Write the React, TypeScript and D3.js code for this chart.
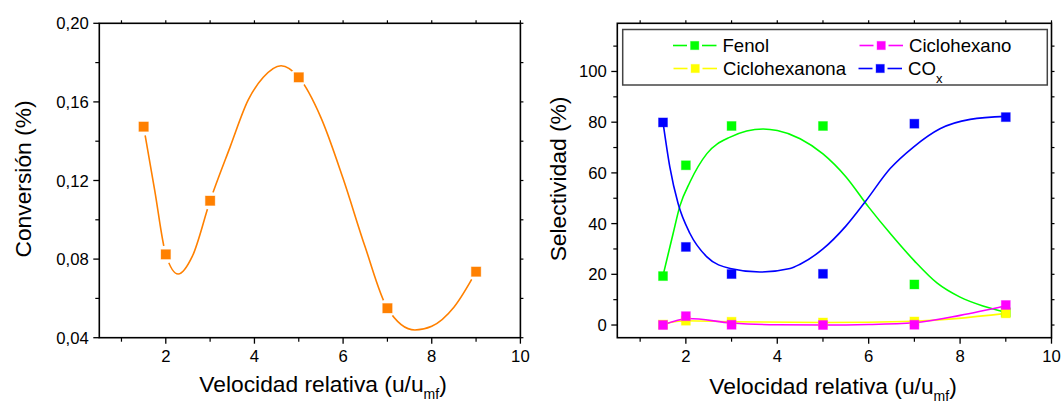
import React from "react";
import * as d3 from "d3";

// ---------- data ----------
const velocity = [1.5, 2, 3, 5, 7, 9];
const conversion = [0.1474, 0.0824, 0.1097, 0.1725, 0.055, 0.0736];

const fenol = [19.3, 63.0, 78.5, 78.5, 16.0, 5.0];
const ciclohexano = [0.0, 3.5, 0.1, 0.0, 0.1, 7.9];
const ciclohexanona = [0.2, 1.7, 1.3, 1.0, 1.4, 4.6];
const cox = [79.9, 30.8, 20.1, 20.2, 79.4, 82.0];

// fitted / spline curves
const conversionFitX = [1.5, 1.75, 2, 2.28, 2.6, 3, 3.45, 3.86, 4.2, 4.6, 5, 5.5, 6.0, 6.5, 7, 7.62, 8.0, 8.5, 9];
const conversionFitY = [0.1474, 0.115, 0.0824, 0.0724, 0.0815, 0.1097, 0.137, 0.161, 0.1725, 0.1784, 0.1725, 0.152, 0.121, 0.086, 0.055, 0.0439, 0.0458, 0.0555, 0.0736];
const fenolFitX = [1.5, 1.72, 1.87, 2.09, 2.46, 2.97, 3.69, 4.0, 4.5, 5.0, 5.5, 6.0, 6.5, 7.0, 7.5, 8.0, 8.5, 9];
const fenolFitY = [19.5, 36, 47, 56.4, 67.6, 74.1, 77.3, 76.7, 73.5, 67.5, 58.5, 46.5, 35.5, 25.3, 16.5, 11, 7.5, 5.0];
const coxFitX = [1.5, 1.65, 1.83, 2.09, 2.46, 2.97, 3.62, 4.28, 4.5, 5.0, 5.5, 5.92, 6.47, 6.98, 7.56, 8.22, 9];
const coxFitY = [80, 62.3, 47.9, 36.1, 26.9, 22.3, 20.9, 22.3, 24.0, 30.0, 39.0, 48.5, 61.7, 70.2, 77.4, 81.1, 82.3];
const ciclohexanoFitX = [1.5, 2.05, 3, 4, 5, 6, 7, 8, 9];
const ciclohexanoFitY = [0, 2.6, 0.8, 0.1, 0, 0.2, 0.9, 3.8, 7.6];
const ciclohexanonaFitX = [1.5, 2, 3, 5, 7, 9];
const ciclohexanonaFitY = [0.4, 1.7, 1.3, 1.0, 1.5, 4.6];

// ticks
const xMajor = [2, 4, 6, 8, 10];
const xMinor = [1, 3, 5, 7, 9];
const convMajor = [0.04, 0.08, 0.12, 0.16, 0.2];
const convMinor = [0.06, 0.1, 0.14, 0.18];
const selMajor = [0, 20, 40, 60, 80, 100];
const selMinor = [10, 30, 50, 70, 90, 110];

const FONT = "'Liberation Sans', Arial, Helvetica, sans-serif";
const ORANGE = "#ff8000";
const GREEN = "#00ff00";
const BLUE = "#0000ff";
const MAGENTA = "#ff00ff";
const YELLOW = "#ffff00";

type Scale = d3.ScaleLinear<number, number>;

function Frame({ x, y, xMaj, xMin, yMaj, yMin, fmt }: { x: Scale; y: Scale; xMaj: number[]; xMin: number[]; yMaj: number[]; yMin: number[]; fmt: (v: number) => string }) {
  const [x0, x1] = x.range();
  const [y0, y1] = y.range(); // y0 bottom, y1 top
  const els: React.ReactNode[] = [];
  xMaj.forEach((v, i) => {
    const px = x(v);
    els.push(<line key={"xM" + i} x1={px} x2={px} y1={y0} y2={y0 + 6} stroke="#000" strokeWidth={1.3} />);
    els.push(<line key={"xMt" + i} x1={px} x2={px} y1={y1} y2={y1 - 3} stroke="#000" strokeWidth={1.2} />);
    els.push(
      <text key={"xL" + i} x={px} y={362} textAnchor="middle" fontSize={16.7} fontFamily={FONT} fill="#000">
        {v}
      </text>
    );
  });
  xMin.forEach((v, i) => {
    const px = x(v);
    els.push(<line key={"xm" + i} x1={px} x2={px} y1={y0} y2={y0 + 4} stroke="#000" strokeWidth={1.2} />);
    els.push(<line key={"xmt" + i} x1={px} x2={px} y1={y1} y2={y1 - 3} stroke="#000" strokeWidth={1.2} />);
  });
  yMaj.forEach((v, i) => {
    const py = y(v);
    els.push(<line key={"yM" + i} x1={x0} x2={x0 - 6} y1={py} y2={py} stroke="#000" strokeWidth={1.3} />);
    els.push(<line key={"yMr" + i} x1={x1} x2={x1 + 3} y1={py} y2={py} stroke="#000" strokeWidth={1.2} />);
    els.push(
      <text key={"yL" + i} x={x0 - 10.5} y={py + 6} textAnchor="end" fontSize={16.7} fontFamily={FONT} fill="#000">
        {fmt(v)}
      </text>
    );
  });
  yMin.forEach((v, i) => {
    const py = y(v);
    els.push(<line key={"ym" + i} x1={x0} x2={x0 - 4} y1={py} y2={py} stroke="#000" strokeWidth={1.2} />);
    els.push(<line key={"ymr" + i} x1={x1} x2={x1 + 3} y1={py} y2={py} stroke="#000" strokeWidth={1.2} />);
  });
  return (
    <g>
      <rect x={x0} y={y1} width={x1 - x0} height={y0 - y1} fill="none" stroke="#000" strokeWidth={1.6} />
      {els}
    </g>
  );
}

function XTitle({ x, y }: { x: number; y: number }) {
  return (
    <text x={x} y={y} fontSize={22.8} fontFamily={FONT} fill="#000">
      Velocidad relativa (u/u
      <tspan fontSize={14} dy={7.5}>mf</tspan>
      <tspan dy={-7.5}>)</tspan>
    </text>
  );
}

function Marker({ cx, cy, color, size = 9 }: { cx: number; cy: number; color: string; size?: number }) {
  return <rect x={cx - size / 2} y={cy - size / 2} width={size} height={size} fill={color} stroke={color} strokeOpacity={0.35} strokeWidth={1} />;
}

export default function App() {
  // left panel
  const xL = d3.scaleLinear().domain([0.5, 10]).range([99.3, 520.4]);
  const yL = d3.scaleLinear().domain([0.04, 0.2]).range([337.7, 23.3]);
  // right panel
  const xR = d3.scaleLinear().domain([0.5, 10]).range([617.3, 1051.5]);
  const yR = d3.scaleLinear().domain([-5, 119]).range([337.7, 23.3]);

  const lineL =
    d3
      .line<number>()
      .x((_, i) => xL(conversionFitX[i]))
      .y((d) => yL(d))
      .curve(d3.curveMonotoneX)(conversionFitY) || "";

  const fitPath = (xs: number[], ys: number[]) =>
    d3
      .line<number>()
      .x((_, i) => xR(xs[i]))
      .y((d) => yR(d))
      .curve(d3.curveMonotoneX)(ys) || "";

  const fmtConv = (v: number) => v.toFixed(2).replace(".", ",");
  const fmtSel = (v: number) => String(v);

  const series = [
    { name: "Fenol", color: GREEN, data: fenol, fx: fenolFitX, fy: fenolFitY },
    { name: "Ciclohexanona", color: YELLOW, data: ciclohexanona, fx: ciclohexanonaFitX, fy: ciclohexanonaFitY },
    { name: "Ciclohexano", color: MAGENTA, data: ciclohexano, fx: ciclohexanoFitX, fy: ciclohexanoFitY },
    { name: "COx", color: BLUE, data: cox, fx: coxFitX, fy: coxFitY },
  ];

  const legendItems = [
    { label: "Fenol", color: GREEN, lx: 673, ly: 45.5 },
    { label: "Ciclohexano", color: MAGENTA, lx: 859.5, ly: 45.5 },
    { label: "Ciclohexanona", color: YELLOW, lx: 673.5, ly: 68.5 },
    { label: "CO", sub: "x", color: BLUE, lx: 858.5, ly: 68.5 },
  ];

  return (
    <svg width={1061} height={403} style={{ position: "absolute", left: 0, top: 0, background: "#fff" }}>
      <rect x={0} y={0} width={1061} height={403} fill="#fff" />
      {/* ---------- left panel ---------- */}
      <path d={lineL} fill="none" stroke={ORANGE} strokeWidth={1.6} />
      {velocity.map((v, i) => (
        <circle key={"h" + i} cx={xL(v)} cy={yL(conversion[i])} r={9} fill="#fff" />
      ))}
      {velocity.map((v, i) => (
        <Marker key={"c" + i} cx={xL(v)} cy={yL(conversion[i])} color={ORANGE} size={9.5} />
      ))}
      <Frame x={xL} y={yL} xMaj={xMajor} xMin={xMinor} yMaj={convMajor} yMin={convMinor} fmt={fmtConv} />
      <text transform="translate(31,179) rotate(-90)" textAnchor="middle" fontSize={22.8} fontFamily={FONT} fill="#000">
        Conversión (%)
      </text>
      <XTitle x={199.3} y={391.7} />

      {/* ---------- right panel ---------- */}
      {series.map((s) => (
        <path key={"f" + s.name} d={fitPath(s.fx, s.fy)} fill="none" stroke={s.color} strokeWidth={1.6} />
      ))}
      {series.map((s) =>
        s.data.map((d, i) => <Marker key={s.name + i} cx={xR(velocity[i])} cy={yR(d)} color={s.color} />)
      )}
      <Frame x={xR} y={yR} xMaj={xMajor} xMin={xMinor} yMaj={selMajor} yMin={selMinor} fmt={fmtSel} />
      <text transform="translate(566,179) rotate(-90)" textAnchor="middle" fontSize={22.8} fontFamily={FONT} fill="#000">
        Selectividad (%)
      </text>
      <XTitle x={709.3} y={393.5} />

      {/* legend */}
      <rect x={622.7} y={29.5} width={424.6} height={55.5} fill="#fff" stroke="#444" strokeWidth={1.5} />
      {legendItems.map((it) => (
        <g key={it.label}>
          <line x1={it.lx} x2={it.lx + 14} y1={it.ly} y2={it.ly} stroke={it.color} strokeWidth={1.6} />
          <line x1={it.lx + 29} x2={it.lx + 43.5} y1={it.ly} y2={it.ly} stroke={it.color} strokeWidth={1.6} />
          <Marker cx={it.lx + 21.7} cy={it.ly} color={it.color} size={8.3} />
          <text x={it.lx + 49.5} y={it.ly + 6.8} fontSize={18.6} fontFamily={FONT} fill="#000">
            {it.label}
            {it.sub ? (
              <tspan fontSize={13} dy={8}>
                {it.sub}
              </tspan>
            ) : null}
          </text>
        </g>
      ))}
    </svg>
  );
}
